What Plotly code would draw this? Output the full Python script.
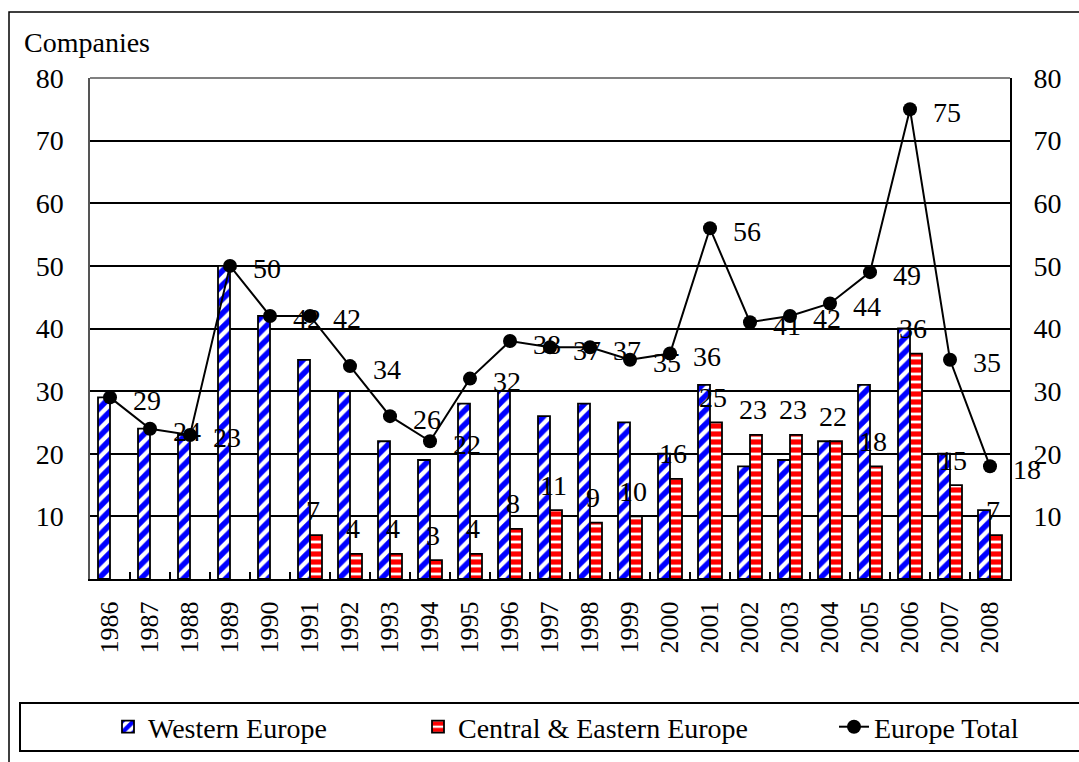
import plotly.graph_objects as go

years = [str(y) for y in range(1986, 2009)]
western = [29, 24, 23, 50, 42, 35, 30, 22, 19, 28, 30, 26, 28, 25, 20, 31, 18, 19, 22, 31, 40, 20, 11]
central_eastern = [None, None, None, None, None, 7, 4, 4, 3, 4, 8, 11, 9, 10, 16, 25, 23, 23, 22, 18, 36, 15, 7]
europe_total = [29, 24, 23, 50, 42, 42, 34, 26, 22, 32, 38, 37, 37, 35, 36, 56, 41, 42, 44, 49, 75, 35, 18]
y_ticks = [10, 20, 30, 40, 50, 60, 70, 80]

FONT = "Liberation Serif"
FS = 28

W, H = 1079, 762
L, R, T, B = 90, 69, 78, 183
PW, PH = W - L - R, H - T - B


def px_x(px):
    return (px - L) / PW


def px_y(py):
    return (H - B - py) / PH


fig = go.Figure()
fig.add_trace(go.Bar(
    x=years, y=western, name="Western Europe", legend="legend",
    marker=dict(color="white", line=dict(color="black", width=1.8),
                pattern=dict(shape="/", fgcolor="#0000ff", bgcolor="white", fgopacity=1,
                             size=10, solidity=0.55)),
))
fig.add_trace(go.Bar(
    x=years, y=central_eastern, name="Central & Eastern Europe", legend="legend2",
    marker=dict(color="white", line=dict(color="black", width=1.8),
                pattern=dict(shape="-", fgcolor="#ff0000", bgcolor="white", fgopacity=1,
                             size=8, solidity=0.65)),
))
fig.add_trace(go.Scatter(
    x=years, y=europe_total, name="Europe Total", legend="legend3", yaxis="y2",
    mode="lines+markers", line=dict(color="black", width=2),
    marker=dict(color="black", size=14),
))

annotations = []
for i, v in enumerate(central_eastern):
    if v:
        annotations.append(dict(x=i, y=v, text=str(v), showarrow=False, xref="x", yref="y",
                                xanchor="center", yanchor="middle", xshift=3, yshift=25,
                                font=dict(family=FONT, size=FS, color="black")))
for i, v in enumerate(europe_total):
    annotations.append(dict(x=i, y=v, text=str(v), showarrow=False, xref="x", yref="y2",
                            xanchor="left", yanchor="middle", xshift=21, yshift=-3,
                            font=dict(family=FONT, size=FS, color="black")))
annotations.append(dict(x=px_x(22), y=px_y(43), xref="paper", yref="paper", text="Companies",
                        showarrow=False, xanchor="left", yanchor="middle",
                        font=dict(family=FONT, size=FS, color="black")))

shapes = [
    dict(type="rect", xref="paper", yref="paper", x0=px_x(9), x1=px_x(1095), y0=px_y(780), y1=px_y(12),
         line=dict(color="black", width=1.5), layer="below"),
    dict(type="rect", xref="paper", yref="paper", x0=px_x(20), x1=px_x(1095), y0=px_y(751), y1=px_y(703),
         line=dict(color="black", width=2), layer="below"),
    dict(type="line", xref="paper", yref="paper", x0=0, x1=1, y0=1, y1=1,
         line=dict(color="#808080", width=2), layer="above"),
]

legend_common = dict(orientation="h", xanchor="left", yanchor="middle", y=px_y(727),
                     bgcolor="rgba(0,0,0,0)", borderwidth=0,
                     font=dict(family=FONT, size=FS, color="black"))

fig.update_layout(
    width=W, height=H,
    margin=dict(l=L, r=R, t=T, b=B, autoexpand=False),
    paper_bgcolor="white", plot_bgcolor="white",
    font=dict(family=FONT, size=FS, color="black"),
    showlegend=True,
    barmode="group", bargap=0.4, bargroupgap=0,
    legend=dict(x=px_x(108), **legend_common),
    legend2=dict(x=px_x(418), **legend_common),
    legend3=dict(x=px_x(834), **legend_common),
    xaxis=dict(type="category", range=[-0.5, len(years) - 0.5], tickangle=-90, ticks="inside",
               tickson="boundaries", ticklen=7, tickcolor="black", tickwidth=1.5,
               showline=True, linecolor="black", linewidth=2, showgrid=False, ticklabelstandoff=10,
               tickfont=dict(family=FONT, size=26, color="black")),
    yaxis=dict(range=[0, 80], tickvals=y_ticks, showgrid=True, gridcolor="black", gridwidth=1.5,
               showline=True, linecolor="#555555", linewidth=1.5, ticks="inside", ticklen=7,
               tickcolor="black", zeroline=False, ticklabelstandoff=19,
               tickfont=dict(family=FONT, size=FS, color="black")),
    yaxis2=dict(range=[0, 80], tickvals=y_ticks, overlaying="y", side="right", showgrid=False,
                showline=True, linecolor="black", linewidth=2, ticks="inside", ticklen=7,
                tickcolor="black", zeroline=False, ticklabelstandoff=16,
                tickfont=dict(family=FONT, size=FS, color="black")),
    annotations=annotations,
    shapes=shapes,
)

fig.write_html("out.html", config={"displayModeBar": False},
               post_script="document.body.style.margin='0px';")
